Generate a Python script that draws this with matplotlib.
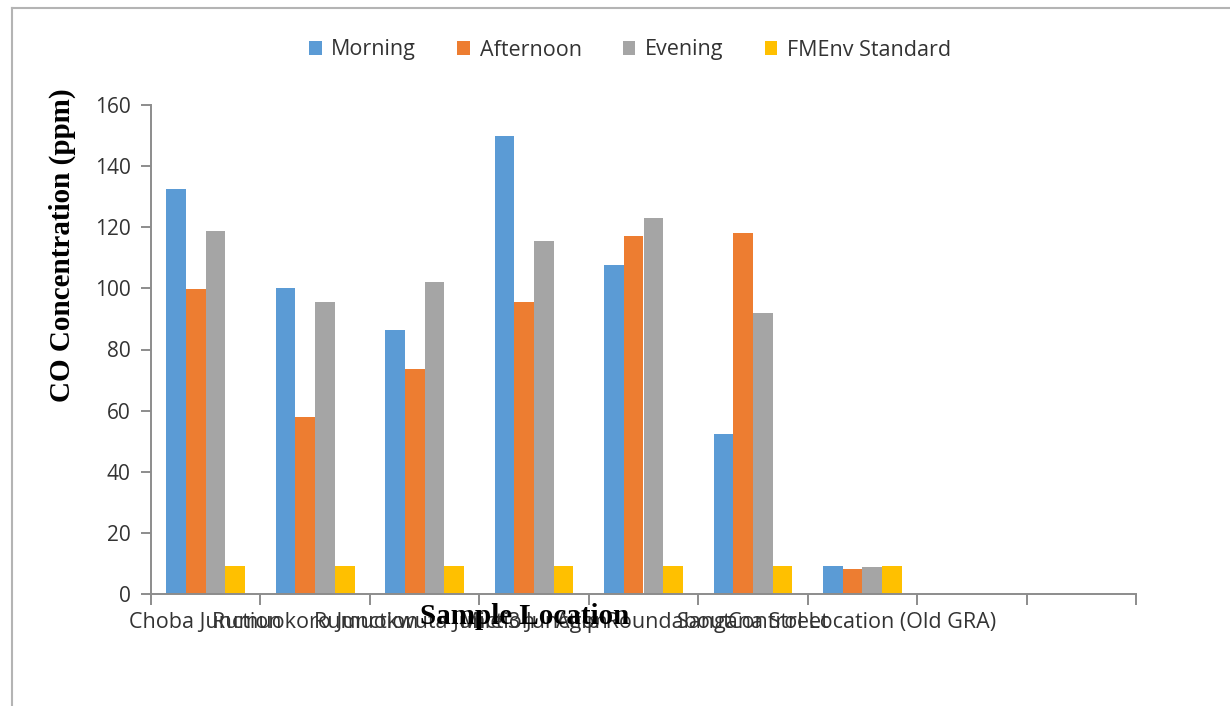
import numpy as np
import matplotlib.pyplot as plt

# CO concentration (ppm) at each sampling point
locations = ["Choba Junction", "Rumuokoro Junction", "Rumuokwuta Junction",
             "Mile 3 Junction", "Agip Roundabout", "Sangana Street",
             "Control Location (Old GRA)"]
morning = [132.5, 100.0, 86.5, 150.0, 107.5, 52.5, 9.3]
afternoon = [99.7, 58.0, 73.5, 95.5, 117.3, 118.0, 8.1]
evening = [118.7, 95.7, 102.2, 115.4, 123.1, 91.8, 8.7]
fmenv = [9.3, 9.3, 9.3, 9.3, 9.3, 9.3, 9.3]
n_slots = 9

series = [("Morning", morning, "#5B9BD5"),
          ("Afternoon", afternoon, "#ED7D31"),
          ("Evening", evening, "#A5A5A5"),
          ("FMEnv Standard", fmenv, "#FFC000")]

plt.rcParams['font.family'] = ['Open Sans', 'DejaVu Sans']
txt = '#333333'
axis_grey = '#8c8c8c'

fig = plt.figure(figsize=(12.3, 7.06), dpi=100)
fig.patch.set_facecolor('white')

# outer chart border (left and top edges visible)
fig.add_artist(plt.Line2D([12/1230, 12/1230], [0, 1 - 8/706], transform=fig.transFigure,
                          color='#b4b4b4', lw=1.5))
fig.add_artist(plt.Line2D([12/1230, 1], [1 - 8/706, 1 - 8/706], transform=fig.transFigure,
                          color='#b4b4b4', lw=1.5))

ax = fig.add_axes([151/1230, 1 - 594/706, (1136 - 151)/1230, (594 - 105)/706])

x = np.arange(len(locations)) + 0.5
w = 0.18
for i, (name, vals, col) in enumerate(series):
    ax.bar(x + (i - 1.5) * w, vals, width=w, color=col, label=name, linewidth=0)

ax.set_xlim(0, n_slots)
ax.set_ylim(0, 160)
ax.set_yticks(np.arange(0, 161, 20))
ax.set_xticks(np.arange(0, n_slots + 1))
ax.set_xticklabels([])
ax.set_xticks(x, minor=True)
ax.set_xticklabels(locations, minor=True)

for side in ['top', 'right']:
    ax.spines[side].set_visible(False)
for side in ['left', 'bottom']:
    ax.spines[side].set_color(axis_grey)
    ax.spines[side].set_linewidth(1.4)

ax.tick_params(axis='y', which='major', direction='out', length=7.5, width=1.4,
               color=axis_grey, labelsize=15, labelcolor=txt, pad=7)
ax.tick_params(axis='x', which='major', direction='out', length=8, width=1.4,
               color=axis_grey)
ax.tick_params(axis='x', which='minor', length=0, labelsize=15.5, labelcolor=txt, pad=13)

fig.text(62/1230, 1 - 245/706, 'CO Concentration (ppm)', rotation=90, ha='center', va='center',
         family='Liberation Serif', fontweight='bold', fontsize=21, color='black')
fig.text(525/1230, 1 - 617/706, 'Sample Location', ha='center', va='center',
         family='Liberation Serif', fontweight='bold', fontsize=21, color='black')

fig.legend(loc='center', bbox_to_anchor=(630/1230, 1 - 50/706), ncol=4, frameon=False,
           fontsize=15.5, handlelength=0.6, handleheight=0.6, handletextpad=0.45,
           columnspacing=1.9, labelcolor=txt)

fig.savefig('out.png', dpi=100, facecolor='white')
